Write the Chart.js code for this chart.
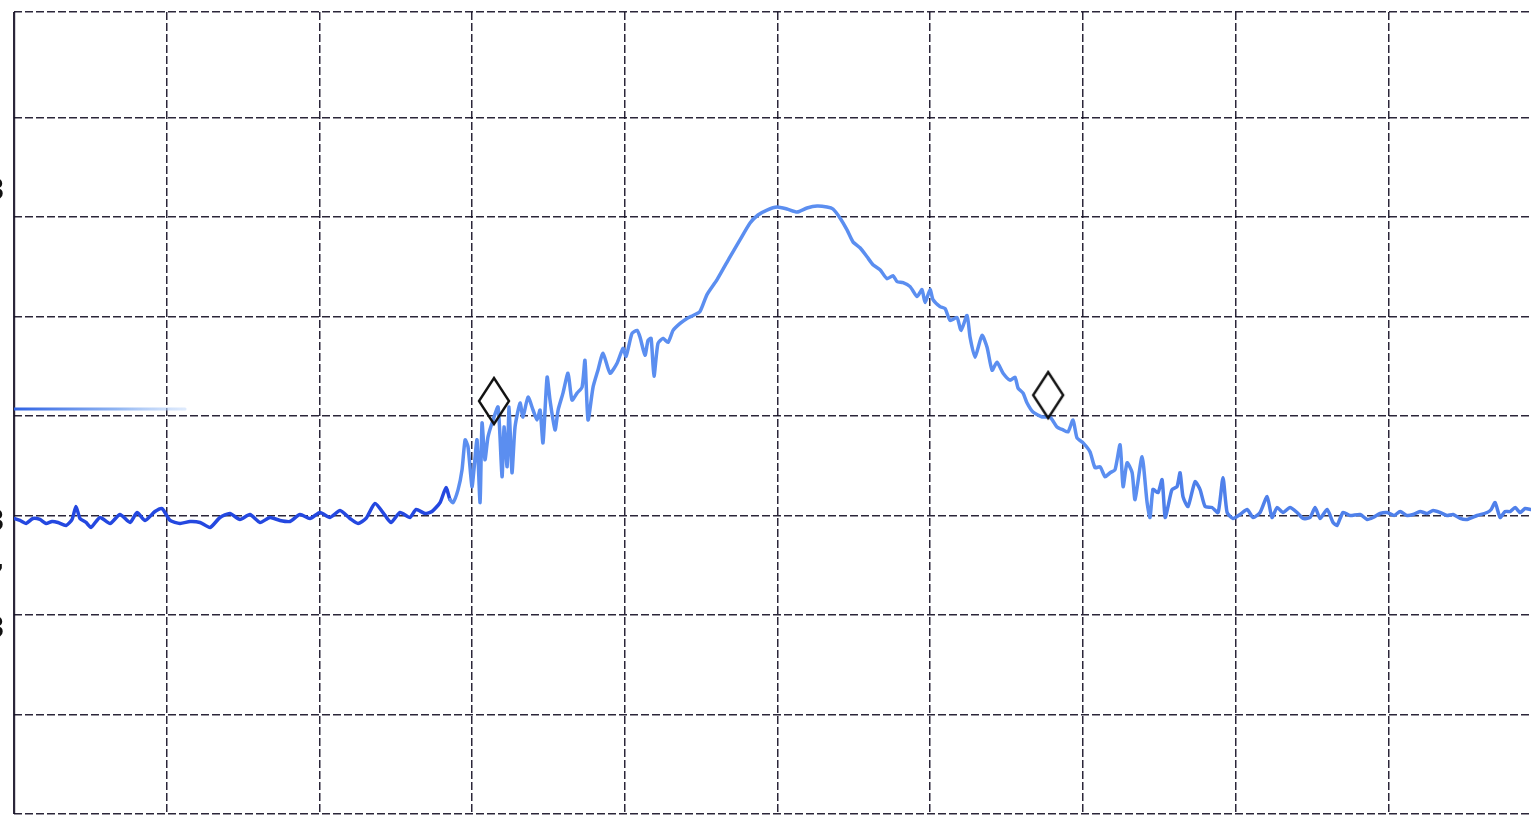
<!DOCTYPE html>
<html>
<head>
<meta charset="utf-8">
<script src="https://cdn.jsdelivr.net/npm/chart.js@4/dist/chart.umd.min.js"></script>
<style>
  html, body { margin: 0; padding: 0; background: #ffffff; overflow: hidden; }
  #wrap { position: relative; width: 1531px; height: 815px; }
</style>
</head>
<body>
<div id="wrap"><canvas id="c"></canvas></div>
<script>
// ---- data (x in divisions, level in dB) ----
const traceX = [0.000,0.039,0.079,0.124,0.170,0.210,0.249,0.288,0.341,0.380,0.406,0.432,0.472,0.504,0.563,0.629,0.694,0.760,0.806,0.858,0.923,0.969,1.022,1.087,1.153,1.218,1.284,1.349,1.414,1.480,1.545,1.611,1.676,1.742,1.807,1.873,1.938,2.004,2.069,2.135,2.200,2.253,2.305,2.364,2.430,2.469,2.528,2.593,2.633,2.692,2.737,2.790,2.829,2.855,2.875,2.908,2.934,2.954,2.973,2.999,3.012,3.032,3.052,3.065,3.084,3.104,3.137,3.170,3.196,3.209,3.229,3.242,3.261,3.281,3.314,3.333,3.366,3.399,3.425,3.445,3.464,3.491,3.510,3.543,3.563,3.595,3.628,3.654,3.687,3.720,3.739,3.759,3.792,3.824,3.857,3.903,3.949,3.988,4.008,4.047,4.080,4.100,4.132,4.152,4.172,4.191,4.217,4.250,4.283,4.316,4.362,4.407,4.447,4.492,4.538,4.604,4.689,4.754,4.820,4.872,4.931,4.997,5.062,5.128,5.193,5.259,5.324,5.363,5.409,5.455,5.494,5.540,5.586,5.625,5.671,5.717,5.756,5.783,5.822,5.868,5.914,5.946,5.966,5.999,6.018,6.064,6.097,6.130,6.175,6.202,6.241,6.261,6.293,6.339,6.372,6.405,6.437,6.477,6.523,6.555,6.575,6.608,6.634,6.673,6.732,6.784,6.830,6.870,6.902,6.935,6.961,7.001,7.046,7.079,7.112,7.145,7.178,7.210,7.243,7.263,7.289,7.322,7.341,7.387,7.420,7.439,7.459,7.492,7.518,7.538,7.557,7.583,7.616,7.636,7.655,7.688,7.734,7.767,7.800,7.845,7.885,7.917,7.944,7.983,8.029,8.075,8.114,8.160,8.206,8.238,8.271,8.310,8.356,8.402,8.441,8.487,8.520,8.553,8.599,8.638,8.664,8.703,8.749,8.815,8.861,8.900,8.946,8.992,9.037,9.077,9.122,9.162,9.208,9.253,9.293,9.339,9.384,9.424,9.470,9.516,9.581,9.646,9.673,9.699,9.732,9.764,9.797,9.830,9.863,9.895,9.934];
const traceDb = [-50.3,-50.5,-50.8,-50.3,-50.4,-50.8,-50.6,-50.7,-51.0,-50.4,-49.1,-50.3,-50.7,-51.2,-50.2,-50.8,-49.9,-50.7,-49.7,-50.5,-49.6,-49.3,-50.5,-50.8,-50.6,-50.7,-51.2,-50.2,-49.8,-50.4,-49.9,-50.7,-50.2,-50.5,-50.6,-49.9,-50.3,-49.7,-50.2,-49.5,-50.3,-50.8,-50.3,-48.8,-50.0,-50.7,-49.7,-50.2,-49.4,-49.8,-49.6,-48.7,-47.2,-48.4,-48.7,-47.4,-45.4,-42.4,-43.1,-47.1,-45.4,-42.4,-48.7,-40.7,-44.4,-42.1,-40.4,-39.1,-46.1,-41.1,-45.1,-39.1,-45.7,-41.1,-38.7,-40.1,-38.1,-39.4,-40.4,-39.4,-42.7,-36.1,-38.4,-41.4,-39.4,-37.7,-35.7,-38.4,-37.7,-37.1,-34.4,-40.4,-37.1,-35.4,-33.7,-35.7,-34.7,-33.2,-34.0,-31.7,-31.4,-32.1,-33.9,-32.4,-32.2,-36.0,-32.7,-32.2,-32.6,-31.4,-30.7,-30.2,-29.9,-29.5,-27.8,-26.3,-24.0,-22.3,-20.6,-19.8,-19.3,-19.0,-19.2,-19.5,-19.1,-18.9,-19.0,-19.2,-20.1,-21.3,-22.5,-23.1,-24.0,-24.8,-25.3,-26.2,-25.9,-26.5,-26.6,-27.0,-28.0,-27.3,-28.6,-27.3,-28.3,-29.0,-29.2,-30.4,-30.1,-31.4,-29.9,-32.1,-34.1,-31.9,-33.1,-35.4,-34.6,-35.7,-36.4,-36.1,-37.2,-37.7,-38.7,-39.6,-40.1,-40.1,-41.1,-41.4,-41.6,-40.4,-42.2,-42.7,-43.6,-45.2,-45.1,-46.1,-45.7,-45.4,-42.9,-47.1,-44.7,-45.7,-48.4,-44.1,-48.7,-50.2,-47.4,-47.7,-46.4,-50.2,-49.1,-47.4,-47.1,-45.7,-48.1,-49.1,-46.6,-47.4,-49.1,-49.2,-49.7,-46.2,-49.7,-50.3,-49.9,-49.4,-50.2,-49.7,-48.1,-50.2,-49.2,-49.7,-49.2,-49.7,-50.3,-50.2,-49.2,-50.3,-49.4,-50.7,-51.0,-49.7,-50.0,-49.9,-50.4,-50.2,-49.8,-49.7,-50.0,-49.6,-50.0,-49.9,-49.6,-49.8,-49.5,-49.7,-50.0,-49.9,-50.3,-50.4,-50.0,-49.7,-49.4,-48.7,-50.2,-49.6,-49.6,-49.2,-49.7,-49.3,-49.4];
const refLineX = [0.0, 1.12];
const refLineDb = [-39.3, -39.3];
const markerX = [3.143, 6.772];
const markerDb = [-38.5, -37.9];
const xGridTicks = [0,1,2,3,4,5,6,7,8,9];
const yGridTicks = [-80,-70,-60,-50,-40,-30,-20,-10,0.6];
const xMin = 0, xMax = 9.934, yMin = -80, yMax = 0.6;
const bandEdges = [2.85, 7.45];
const bandColors = ['#2448e0', '#5b8ef0', '#4f80ea'];
const edgeGlyphs = ['3', '3', '\u2019', '3'];
const edgeGlyphDb = [-17.5, -50.8, -56.3, -61.5];

// ---- styling helpers ----
function bandColor(x) {
  if (x < bandEdges[0]) return bandColors[0];
  if (x < bandEdges[1]) return bandColors[1];
  return bandColors[2];
}
const diamond = document.createElement('canvas');
diamond.width = 36; diamond.height = 52;
(function () {
  const g = diamond.getContext('2d');
  g.strokeStyle = '#111111';
  g.lineWidth = 2.4;
  g.beginPath();
  g.moveTo(18, 3); g.lineTo(33, 26); g.lineTo(18, 49); g.lineTo(3, 26); g.closePath();
  g.stroke();
})();

const edgeText = {
  id: 'edgeText',
  afterDraw(chart) {
    const { ctx, scales } = chart;
    ctx.save();
    ctx.fillStyle = '#111';
    ctx.font = 'bold 30px "DejaVu Sans"';
    ctx.textAlign = 'right';
    ctx.textBaseline = 'middle';
    edgeGlyphs.forEach((t, i) => {
      ctx.fillText(t, 5, scales.y.getPixelForValue(edgeGlyphDb[i]));
    });
    ctx.restore();
  }
};

const isEdge = c => c.tick && (c.tick.value === xMin);
const gridX = {
  color: 'rgba(20,14,36,0.9)',
  lineWidth: c => isEdge(c) ? 2.2 : 1.5,
  drawTicks: false,
};
const gridY = {
  color: 'rgba(20,14,36,0.9)',
  lineWidth: 1.5,
  drawTicks: false,
};

new Chart(document.getElementById('c'), {
  type: 'line',
  data: {
    datasets: [
      {
        label: 'trace',
        data: traceX.map((x, i) => ({ x, y: traceDb[i] })),
        borderColor: bandColors[1],
        borderWidth: 3.5,
        pointRadius: 0,
        tension: 0.2,
        segment: { borderColor: c => bandColor(c.p0.parsed.x) },
        order: 2
      },
      {
        label: 'ref',
        data: refLineX.map((x, i) => ({ x, y: refLineDb[i] })),
        borderWidth: 3,
        pointRadius: 0,
        borderColor: (c) => {
          const ch = c.chart;
          if (!ch.chartArea) return '#3a6ee6';
          const xs = ch.scales.x;
          const g = ch.ctx.createLinearGradient(xs.getPixelForValue(refLineX[0]), 0, xs.getPixelForValue(refLineX[1]), 0);
          g.addColorStop(0, '#2f62e4');
          g.addColorStop(0.6, '#8fb4f2');
          g.addColorStop(1, 'rgba(190,214,250,0.5)');
          return g;
        },
        order: 3
      },
      {
        label: 'markers',
        data: markerX.map((x, i) => ({ x, y: markerDb[i] })),
        showLine: false,
        pointStyle: diamond,
        pointRadius: 20,
        order: 1
      }
    ]
  },
  options: {
    responsive: true,
    maintainAspectRatio: false,
    animation: false,
    layout: { autoPadding: false, padding: { left: 14, top: 12, right: 0, bottom: 1 } },
    plugins: { legend: { display: false }, tooltip: { enabled: false } },
    scales: {
      x: {
        type: 'linear', min: xMin, max: xMax,
        ticks: { display: false },
        border: { display: false, dash: c => isEdge(c) ? [] : [8, 3] },
        grid: gridX,
        afterBuildTicks: s => { s.ticks = xGridTicks.map(v => ({ value: v })); }
      },
      y: {
        type: 'linear', min: yMin, max: yMax,
        ticks: { display: false },
        border: { display: false, dash: [8, 3] },
        grid: gridY,
        afterBuildTicks: s => { s.ticks = yGridTicks.map(v => ({ value: v })); }
      }
    },
    elements: { line: { borderCapStyle: 'round', borderJoinStyle: 'round' } }
  },
  plugins: [edgeText]
});
</script>
</body>
</html>
